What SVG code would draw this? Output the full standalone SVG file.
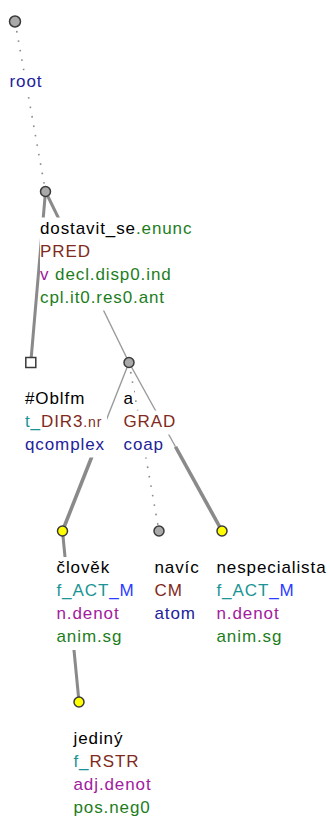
<svg xmlns="http://www.w3.org/2000/svg" width="330" height="818" viewBox="0 0 330 818">
<style>
text{font-family:"Liberation Sans",Arial,sans-serif;font-size:17px;letter-spacing:0.9px}
.bg{fill:#fff}
.k{fill:#000}.g{fill:#1d7d1d}.r{fill:#7f2a20}.p{fill:#a020a0}.t{fill:#1a9494}.b{fill:#2a3cff}.n{fill:#22229a}
.sm{font-size:14px}
.thick{stroke:#8a8a8a;stroke-width:3;fill:none}
.mem{stroke:#8a8a8a;stroke-width:3.6;fill:none}
.thin{stroke:#9a9a9a;stroke-width:1.4;fill:none}
.dot{stroke:#8a8a8a;stroke-width:1.6;stroke-dasharray:1.6 8;fill:none}
.gr{fill:#a9a9a9;stroke:#3a3a3a;stroke-width:1.5}
.ye{fill:#ffff00;stroke:#3a3a3a;stroke-width:1.5}
.sq{fill:#fff;stroke:#3a3a3a;stroke-width:1.5}
</style>
<g id="connectors">
<line class="dot" x1="15" y1="21.5" x2="45.5" y2="191.5"/>
<line class="thick" x1="45.5" y1="191.5" x2="30.8" y2="362.5"/>
<line class="thick" x1="45.5" y1="191.5" x2="87.25" y2="277"/>
<line class="thin" x1="87.25" y1="277" x2="129" y2="362.5"/>
<line class="thin" x1="129" y1="362.5" x2="95.75" y2="446.75"/>
<line class="mem" x1="95.75" y1="446.75" x2="62.5" y2="531"/>
<line class="dot" x1="129" y1="362.5" x2="159" y2="531"/>
<line class="thin" x1="129" y1="362.5" x2="175.5" y2="446.75"/>
<line class="mem" x1="175.5" y1="446.75" x2="222" y2="531"/>
<line class="thick" x1="62.5" y1="531" x2="79" y2="702"/>
</g>
<g id="n-root">
<rect class="bg" x="9.5" y="70.5" width="33.5" height="24"/>
<circle class="gr" cx="15" cy="21.5" r="5.5"/>
<text x="9.5" y="86.5" class="n">root</text>
</g>
<g id="n-dostavit">
<rect class="bg" x="40" y="217.5" width="153" height="24"/>
<rect class="bg" x="40" y="240.5" width="50" height="24"/>
<rect class="bg" x="40" y="263.5" width="132" height="24"/>
<rect class="bg" x="40" y="286.5" width="126" height="24"/>
<circle class="gr" cx="45.5" cy="191.5" r="5"/>
<text x="40" y="233.5"><tspan class="k">dostavit_se</tspan><tspan class="g">.enunc</tspan></text>
<text x="40" y="256.5" class="r">PRED</text>
<text x="40" y="279.5"><tspan class="p">v</tspan><tspan class="g"> decl.disp0.ind</tspan></text>
<text x="40" y="302.5" class="g">cpl.it0.res0.ant</text>
</g>
<g id="n-oblfm">
<rect class="bg" x="25" y="387.5" width="61" height="24"/>
<rect class="bg" x="25" y="410.5" width="82" height="24"/>
<rect class="bg" x="25" y="433.5" width="81" height="24"/>
<rect class="sq" x="25.8" y="357.5" width="10" height="10"/>
<text x="25" y="403.5" class="k">#Oblfm</text>
<text x="25" y="426.5"><tspan class="t">t_</tspan><tspan class="r">DIR3</tspan><tspan class="r sm">.nr</tspan></text>
<text x="25" y="449.5" class="n">qcomplex</text>
</g>
<g id="n-a">
<rect class="bg" x="123.5" y="387.5" width="10.5" height="24"/>
<rect class="bg" x="123.5" y="410.5" width="53" height="24"/>
<rect class="bg" x="123.5" y="433.5" width="41" height="24"/>
<circle class="gr" cx="129" cy="362.5" r="5"/>
<text x="123.5" y="403.5" class="k">a</text>
<text x="123.5" y="426.5" class="r">GRAD</text>
<text x="123.5" y="449.5" class="n">coap</text>
</g>
<g id="n-clovek">
<rect class="bg" x="56.5" y="557" width="54" height="24"/>
<rect class="bg" x="56.5" y="580" width="79" height="24"/>
<rect class="bg" x="56.5" y="603" width="64" height="24"/>
<rect class="bg" x="56.5" y="626" width="66" height="24"/>
<circle class="ye" cx="62.5" cy="531" r="5"/>
<text x="56.5" y="573" class="k">člověk</text>
<text x="56.5" y="596"><tspan class="t">f_ACT</tspan><tspan class="b">_M</tspan></text>
<text x="56.5" y="619" class="p">n.denot</text>
<text x="56.5" y="642" class="g">anim.sg</text>
</g>
<g id="n-navic">
<rect class="bg" x="154.5" y="557" width="46" height="24"/>
<rect class="bg" x="154.5" y="580" width="28" height="24"/>
<rect class="bg" x="154.5" y="603" width="42" height="24"/>
<circle class="gr" cx="159" cy="531" r="5"/>
<text x="154.5" y="573" class="k">navíc</text>
<text x="154.5" y="596" class="r">CM</text>
<text x="154.5" y="619" class="n">atom</text>
</g>
<g id="n-nespecialista">
<circle class="ye" cx="222" cy="531" r="5"/>
<text x="216.5" y="573" class="k">nespecialista</text>
<text x="216.5" y="596"><tspan class="t">f_ACT</tspan><tspan class="b">_M</tspan></text>
<text x="216.5" y="619" class="p">n.denot</text>
<text x="216.5" y="642" class="g">anim.sg</text>
</g>
<g id="n-jediny">
<circle class="ye" cx="79" cy="702" r="5"/>
<text x="73.5" y="743.5" class="k">jediný</text>
<text x="73.5" y="766.5"><tspan class="t">f_</tspan><tspan class="r">RSTR</tspan></text>
<text x="73.5" y="789.5" class="p">adj.denot</text>
<text x="73.5" y="812.5" class="g">pos.neg0</text>
</g>
</svg>
